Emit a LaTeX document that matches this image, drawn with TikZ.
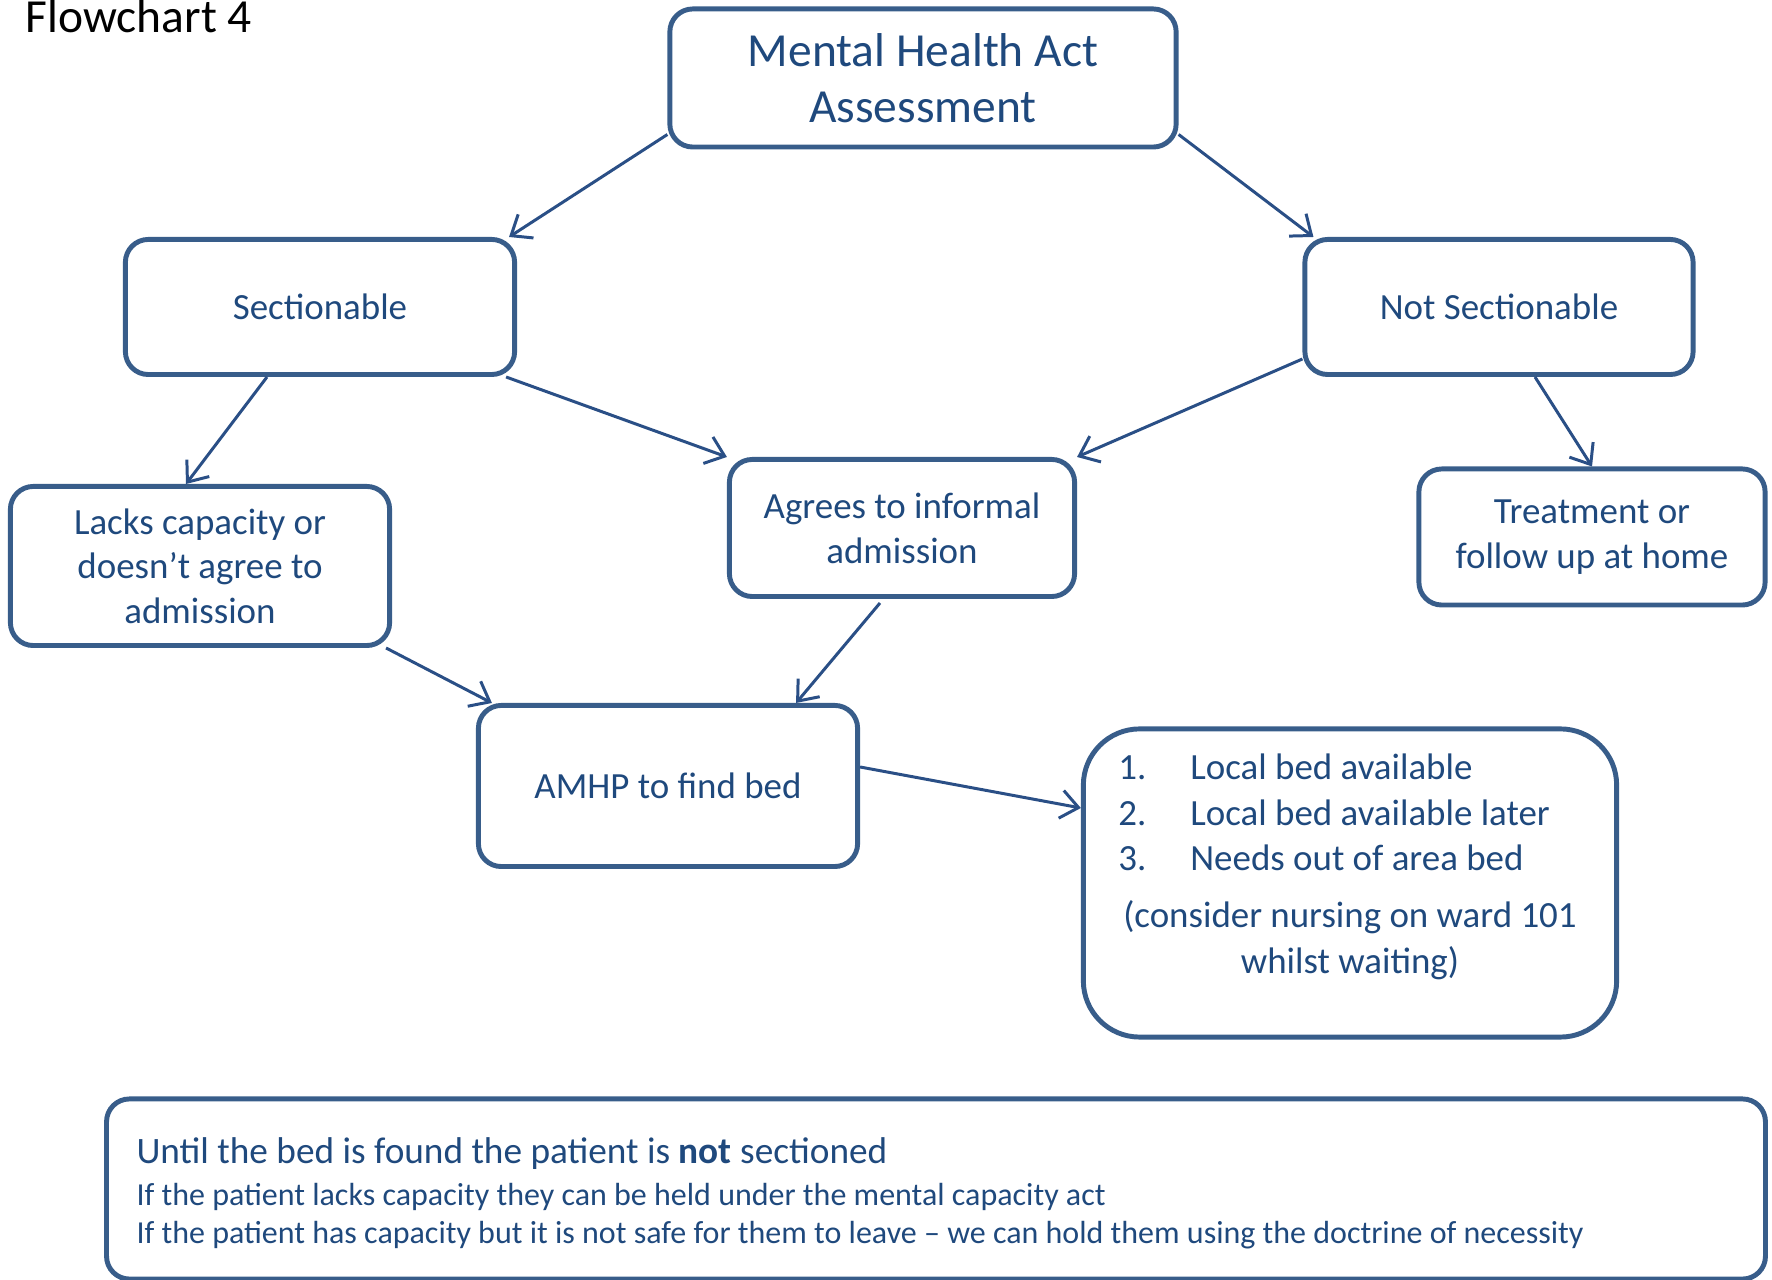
\documentclass[tikz,border=0pt]{standalone}
\usepackage{fontspec}
\setmainfont{Carlito}
\usetikzlibrary{arrows.meta}
\tikzset{>={Straight Barb[length=5pt,width=8pt]}}
\definecolor{boxblue}{HTML}{385D8A}
\definecolor{textblue}{HTML}{1F497D}
\definecolor{arrowblue}{HTML}{2A4F86}
\tikzset{
  flowbox/.style={draw=boxblue, line width=1.4pt, rounded corners=6.5pt,
    text=textblue, align=center, inner sep=0pt,
    font=\fontsize{10.5}{12.7}\selectfont},
  flowarrow/.style={->, draw=arrowblue, line width=0.85pt}
}

\begin{document}
\begin{tikzpicture}[x=0.01cm,y=-0.01cm]
\useasboundingbox (0,0) rectangle (1772,1280);

\node[anchor=base west, inner sep=0pt, font=\fontsize{13.5}{16}\selectfont] (title) at (25,33) {Flowchart 4};

\node[flowbox, minimum width=5.06cm, minimum height=1.38cm,
  font=\fontsize{13.5}{16}\selectfont] (mha) at (923,78) {Mental Health Act\\Assessment};

\node[flowbox, minimum width=3.89cm, minimum height=1.35cm] (sect) at (320,307) {Sectionable};
\node[flowbox, minimum width=3.88cm, minimum height=1.35cm] (notsect) at (1499,307) {Not Sectionable};

\node[flowbox, minimum width=3.79cm, minimum height=1.59cm] (lacks) at (200,566)
  {Lacks capacity or\\doesn’t agree to\\admission};
\node[flowbox, minimum width=3.45cm, minimum height=1.37cm] (agrees) at (902,528)
  {Agrees to informal\\admission};
\node[flowbox, minimum width=3.46cm, minimum height=1.36cm] (treat) at (1592,537)
  {Treatment or\\follow up at home};

\node[flowbox, minimum width=3.79cm, minimum height=1.61cm] (amhp) at (668,786) {AMHP to find bed};

\node[flowbox, rounded corners=16pt, minimum width=5.33cm, minimum height=3.08cm] (beds) at (1350,883)
  {\begin{minipage}[c][3.08cm][t]{4.63cm}
   \raggedright\fontsize{10.5}{13}\selectfont
   \vspace*{0.25cm}
   \makebox[0.72cm][l]{1.}Local bed available\par
   \makebox[0.72cm][l]{2.}Local bed available later\par
   \makebox[0.72cm][l]{3.}Needs out of area bed\par
   \vspace{3.2pt}
   \centering (consider nursing on ward 101\\whilst waiting)\par
   \end{minipage}};

\node[flowbox, minimum width=16.58cm, minimum height=1.80cm, text width=15.98cm, align=flush left,
  font=\fontsize{9.1}{10.9}\selectfont] (note) at (936,1189)
  {{\fontsize{10.6}{10.9}\selectfont\rule{0pt}{10pt}Until the bed is found the patient is \textbf{not} sectioned}\\[1pt]
   If the patient lacks capacity they can be held under the mental capacity act\\
   If the patient has capacity but it is not safe for them to leave – we can hold them using the doctrine of necessity};

% arrows
\draw[flowarrow] ([shift={(0,-15)}]mha.south west) -- ([shift={(-8,0)}]sect.north east);
\draw[flowarrow] ([shift={(0,-15)}]mha.south east) -- ([shift={(11,0)}]notsect.north west);
\draw[flowarrow] ([shift={(-53,0)}]sect.south) -- ([shift={(-14,0)}]lacks.north);
\draw[flowarrow] ([shift={(-11,0)}]sect.south east) -- (agrees.north west);
\draw[flowarrow] ([shift={(0,-18)}]notsect.south west) -- (agrees.north east);
\draw[flowarrow] ([shift={(36,0)}]notsect.south) -- (treat.north);
\draw[flowarrow] ([shift={(-6,0)}]lacks.south east) -- ([shift={(16,0)}]amhp.north west);
\draw[flowarrow] ([shift={(-22,4)}]agrees.south) -- ([shift={(-64,0)}]amhp.north east);
\draw[flowarrow] ([shift={(0,-19)}]amhp.east) -- ([shift={(0,-75)}]beds.west);
\end{tikzpicture}
\end{document}
